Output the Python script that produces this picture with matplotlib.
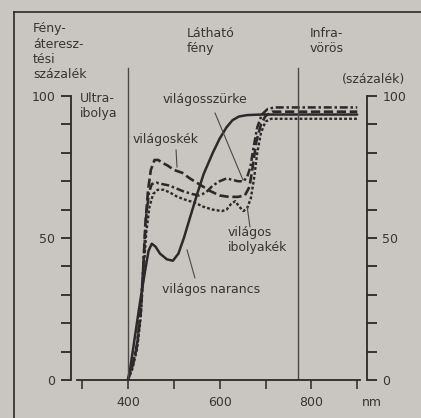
import matplotlib
matplotlib.use("Agg")
import matplotlib.pyplot as plt
import numpy as np
from matplotlib.lines import Line2D

plt.rcParams.update({"font.family": "DejaVu Sans", "font.size": 9})

BG = "#c9c6c1"
INK = "#2b2929"
TXT = "#363434"

# wavelength (nm) / transmission (%)
narancs_nm = [400, 405, 415, 426, 437, 445, 452, 460, 470, 485, 498, 510, 522, 535, 550,
              565, 585, 600, 615, 628, 642, 660, 690, 730, 800, 900]
narancs_pct = [0, 4, 15, 27, 38, 45.5, 48, 47, 44.5, 42.5, 42, 44.5, 50, 57, 65,
               72.5, 80, 85, 89, 91.5, 92.8, 93.3, 93.5, 93.5, 93.5, 93.5]

kek_nm = [400, 410, 420, 428, 433, 438, 444, 450, 458, 466, 475, 487, 500, 518, 535, 550,
          565, 580, 600, 620, 640, 655, 665, 672, 680, 690, 700, 715, 800, 900]
kek_pct = [0, 5, 12, 24, 38, 55, 67, 74, 77.5, 77.5, 76.5, 75.5, 74, 73, 71, 69.5,
           68, 66.5, 65, 64.5, 64.5, 65, 68, 75, 84, 90, 93, 94.5, 94.5, 94.5]

szurke_nm = [400, 410, 420, 428, 434, 440, 446, 452, 462, 475, 490, 505, 520, 540, 555, 570,
             585, 600, 615, 628, 640, 652, 660, 667, 674, 682, 692, 705, 720, 800, 900]
szurke_pct = [0, 5, 13, 25, 42, 58, 66, 69, 69.5, 69, 68.5, 67.5, 66.5, 65.5, 65, 66,
              68.5, 70, 71, 70.5, 70, 70, 71.5, 75, 82, 89, 93.5, 95.5, 96, 96, 96]

ibolya_nm = [400, 410, 420, 428, 434, 440, 447, 455, 465, 478, 492, 508, 525, 545, 565, 585,
             605, 615, 625, 634, 643, 652, 660, 668, 675, 682, 690, 700, 712, 800, 900]
ibolya_pct = [0, 4, 11, 22, 38, 52, 61, 65.5, 67, 67, 66, 64.5, 63.5, 62.5, 61, 60,
              59.5, 60, 62, 63, 61, 59.5, 60.5, 64, 71, 80, 87, 91, 92, 92, 92]

W, H = 421, 418
fig = plt.figure(figsize=(W / 100, H / 100), dpi=100, facecolor=BG)


def fx(px):
    return px / W


def fy(py):
    return 1 - py / H


ax = fig.add_axes([fx(77), fy(380), (360 - 77) / W, 318 / H])
ax.set_facecolor(BG)
ax.set_xlim(289, 906)
ax.set_ylim(0, 112)

ax.plot(narancs_nm, narancs_pct, color=INK, lw=1.8, solid_capstyle="round")
ax.plot(kek_nm, kek_pct, color=INK, lw=1.9, dashes=(3.5, 1.4))
ax.plot(szurke_nm, szurke_pct, color=INK, lw=1.8, dashes=(3.2, 1.1, 1, 1.1))
ax.plot(ibolya_nm, ibolya_pct, color=INK, lw=1.7, dashes=(1.2, 0.9))

# region separators
for x in (400, 770):
    ax.plot([x, x], [0, 110], color="#4a4848", lw=1.0)

# leader lines
ax.plot([590, 651], [94, 70.4], color="#4a4848", lw=0.8)
ax.plot([505, 507], [81, 75], color="#4a4848", lw=0.8)
ax.plot([660, 666], [61, 54], color="#4a4848", lw=0.8)
ax.plot([529, 546], [45.8, 36], color="#4a4848", lw=0.8)

ax.spines["top"].set_visible(False)
ax.spines["left"].set_position(("outward", 4.5))
ax.spines["right"].set_position(("outward", 5))
ax.spines["left"].set_bounds(0, 100)
ax.spines["right"].set_bounds(0, 100)
for s in ("left", "right", "bottom"):
    ax.spines[s].set_color(INK)
    ax.spines[s].set_linewidth(1.3)

ax.set_yticks([0, 50, 100])
ax.set_yticks(np.arange(0, 101, 10), minor=True)
ax.set_xticks([400, 600, 800])
ax.set_xticks([300, 500, 700, 900], minor=True)
ax.tick_params(axis="y", which="both", left=True, right=True, labelleft=True, labelright=True,
               direction="out", length=7, width=1.3, color=INK, labelsize=9, labelcolor=TXT, pad=4)
ax.tick_params(axis="x", which="both", direction="out", length=6.5, width=1.1, color=INK,
               labelsize=9, labelcolor=TXT, pad=5)

# texts
fig.text(fx(33), fy(22), "Fény-\náteresz-\ntési\nszázalék", ha="left", va="top",
         color=TXT, linespacing=1.25)
fig.text(fx(80), fy(92), "Ultra-\nibolya", ha="left", va="top", color=TXT, linespacing=1.2)
fig.text(fx(187), fy(27), "Látható\nfény", ha="left", va="top", color=TXT, linespacing=1.2)
fig.text(fx(310), fy(27), "Infra-\nvörös", ha="left", va="top", color=TXT, linespacing=1.2)
fig.text(fx(342), fy(80), "(százalék)", ha="left", va="center", color=TXT)
fig.text(fx(362), fy(403), "nm", ha="left", va="center", color=TXT)

fig.text(fx(163), fy(100), "világosszürke", ha="left", va="center", color=TXT)
fig.text(fx(133), fy(140), "világoskék", ha="left", va="center", color=TXT)
fig.text(fx(228), fy(226), "világos\nibolyakék", ha="left", va="top", color=TXT, linespacing=1.2)
fig.text(fx(162), fy(290), "világos narancs", ha="left", va="center", color=TXT)

# scan frame
fig.add_artist(Line2D([fx(14), fx(14)], [0, fy(12)], color=INK, lw=1.2))
fig.add_artist(Line2D([fx(14), 1], [fy(12), fy(12)], color=INK, lw=1.2))

fig.savefig("out.png", dpi=100, facecolor=BG)
